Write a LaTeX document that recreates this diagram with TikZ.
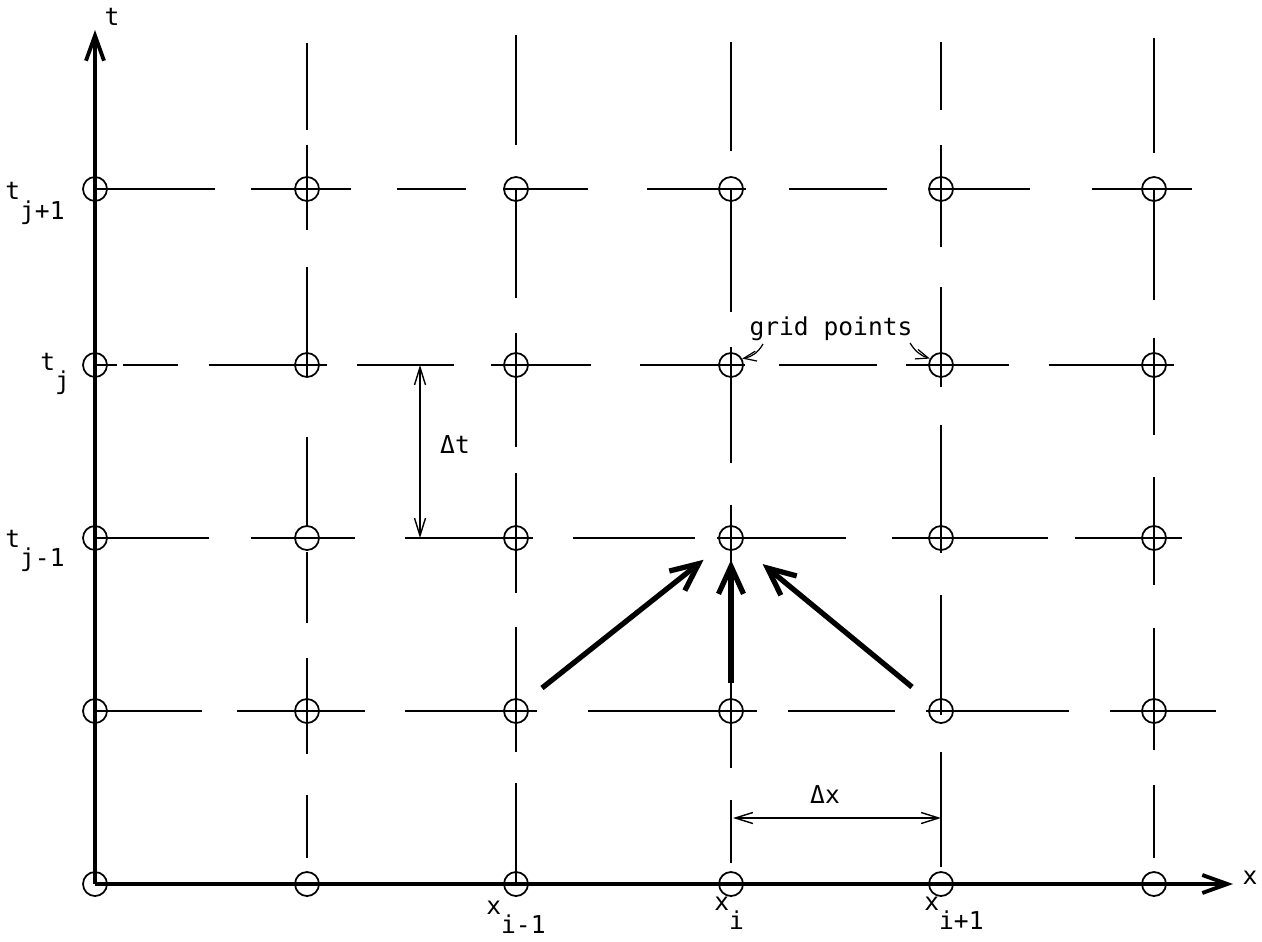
\documentclass[tikz,border=0pt]{standalone}
\usepackage{fontspec}
\setmainfont{DejaVu Sans Mono}
\usetikzlibrary{arrows.meta}
\newcommand{\lowsub}[2]{#1\raisebox{-0.8em}{#2}}

\begin{document}
\begin{tikzpicture}[x=0.2mm, y=-0.2mm,
  lbl/.style={font=\fontsize{14}{16}\selectfont, inner sep=0pt},
  gpt/.style={circle, draw, line width=1pt, minimum size=4.8mm, inner sep=0pt},
  gline/.style={line width=0.9pt},
  axisline/.style={line width=2.2pt, -{Straight Barb[length=5mm,width=3.6mm]}},
  bigarrow/.style={line width=3pt, -{Straight Barb[length=5.5mm,width=5mm]}},
  dimarrow/.style={line width=0.8pt, {Straight Barb[length=3.5mm,width=2.2mm]}-{Straight Barb[length=3.5mm,width=2.2mm]}},
  ptr/.style={line width=0.7pt, -{Straight Barb[length=2.5mm,width=2mm]}}
]
\useasboundingbox (0,0) rectangle (1262,941);

% grid points
\node[gpt] (p00) at (95,884) {};
\node[gpt] (p10) at (307,884) {};
\node[gpt] (p20) at (516,884) {};
\node[gpt] (p30) at (731,884) {};
\node[gpt] (p40) at (941,884) {};
\node[gpt] (p50) at (1154,884) {};
\node[gpt] (p01) at (95,711) {};
\node[gpt] (p11) at (307,711) {};
\node[gpt] (p21) at (516,711) {};
\node[gpt] (p31) at (731,711) {};
\node[gpt] (p41) at (941,711) {};
\node[gpt] (p51) at (1154,711) {};
\node[gpt] (p02) at (95,538) {};
\node[gpt] (p12) at (307,538) {};
\node[gpt] (p22) at (516,538) {};
\node[gpt] (p32) at (731,538) {};
\node[gpt] (p42) at (941,538) {};
\node[gpt] (p52) at (1154,538) {};
\node[gpt] (p03) at (95,365) {};
\node[gpt] (p13) at (307,365) {};
\node[gpt] (p23) at (516,365) {};
\node[gpt] (p33) at (731,365) {};
\node[gpt] (p43) at (941,365) {};
\node[gpt] (p53) at (1154,365) {};
\node[gpt] (p04) at (95,189) {};
\node[gpt] (p14) at (307,189) {};
\node[gpt] (p24) at (516,189) {};
\node[gpt] (p34) at (731,189) {};
\node[gpt] (p44) at (941,189) {};
\node[gpt] (p54) at (1154,189) {};

% broken grid lines, rows
\draw[gline] (95,189) -- (215,189) (251,189) -- (351,189) (397,189) -- (466,189) (503,189) -- (588,189) (647,189) -- (746,189) (789,189) -- (887,189) (929,189) -- (1030,189) (1092,189) -- (1192,189);
\draw[gline] (95,365) -- (117,365) (123,365) -- (178,365) (209,365) -- (327,365) (357,365) -- (454,365) (491,365) -- (591,365) (640,365) -- (745,365) (779,365) -- (877,365) (906,365) -- (1009,365) (1049,365) -- (1174,365);
\draw[gline] (95,538) -- (209,538) (251,538) -- (355,538) (405,538) -- (533,538) (573,538) -- (695,538) (717,538) -- (846,538) (892,538) -- (1048,538) (1075,538) -- (1182,538);
\draw[gline] (95,711) -- (202,711) (237,711) -- (365,711) (405,711) -- (537,711) (588,711) -- (757,711) (788,711) -- (895,711) (926,711) -- (1069,711) (1110,711) -- (1216,711);

% broken grid lines, columns
\draw[gline] (307,43) -- (307,130) (307,145) -- (307,230) (307,267) -- (307,377) (307,437) -- (307,527) (307,552) -- (307,623) (307,658) -- (307,754) (307,795) -- (307,858);
\draw[gline] (516,35) -- (516,145) (516,189) -- (516,298) (516,333) -- (516,447) (516,473) -- (516,593) (516,627) -- (516,752) (516,783) -- (516,884);
\draw[gline] (731,42) -- (731,151) (731,189) -- (731,312) (731,347) -- (731,463) (731,505) -- (731,768) (731,800) -- (731,863);
\draw[gline] (941,42) -- (941,110) (941,145) -- (941,247) (941,287) -- (941,387) (941,425) -- (941,553) (941,595) -- (941,715) (941,752) -- (941,867);
\draw[gline] (1154,38) -- (1154,153) (1154,189) -- (1154,300) (1154,338) -- (1154,435) (1154,477) -- (1154,585) (1154,628) -- (1154,750) (1154,785) -- (1154,858);

% axes
\coordinate (ttip) at (95,30);
\coordinate (xtip) at (1233,884);
\draw[axisline] (p00.center) -- (ttip);
\draw[axisline] (p00.center) -- (xtip);
\node[lbl] (tlab) at (112,17) {t};
\node[lbl] (xlab) at (1250,878) {x};

% level labels
\node[lbl, anchor=base west] (tjp) at (5,200) {\lowsub{t}{j+1}};
\node[lbl, anchor=base west] (tj) at (40,370) {\lowsub{t}{j}};
\node[lbl, anchor=base west] (tjm) at (5,547) {\lowsub{t}{j-1}};
\node[lbl, anchor=base west] (xim) at (486,914) {\lowsub{x}{i-1}};
\node[lbl, anchor=base west] (xi) at (714,910) {\lowsub{x}{i}};
\node[lbl, anchor=base west] (xip) at (924,910) {\lowsub{x}{i+1}};

% spacings
\coordinate (dta) at (420,365);
\coordinate (dtb) at (420,538);
\draw[dimarrow] (dta) -- (dtb);
\node[lbl] (dt) at (455,445) {Δt};
\coordinate (dxa) at (733,818);
\coordinate (dxb) at (941,818);
\draw[dimarrow] (dxa) -- (dxb);
\node[lbl] (dx) at (825,795) {Δx};

% stencil arrows
\coordinate (sl) at (542,688);
\coordinate (sm) at (731,683);
\coordinate (sr) at (912,687);
\draw[bigarrow, shorten >=7mm] (sl) -- (p32.center);
\draw[bigarrow, shorten >=4.4mm] (sm) -- (p32.center);
\draw[bigarrow, shorten >=8.2mm] (sr) -- (p32.center);

% grid points note
\node[lbl] (gp) at (831,329) {grid points};
\coordinate (gpl) at (763,344);
\coordinate (gpr) at (910,343);
\draw[ptr] (gpl) to[bend left=25] (p33.30);
\draw[ptr] (gpr) to[bend right=20] (p43.150);

\end{tikzpicture}
\end{document}
